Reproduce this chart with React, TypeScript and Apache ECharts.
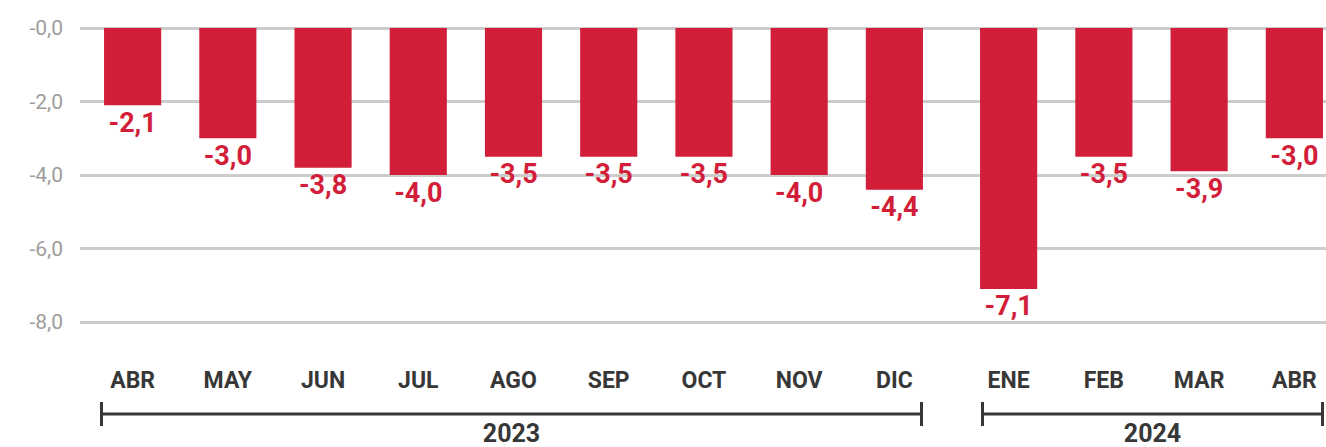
import React, { useEffect, useRef } from "react";
import * as echarts from "echarts";

const months2023 = ["ABR", "MAY", "JUN", "JUL", "AGO", "SEP", "OCT", "NOV", "DIC"];
const values2023 = [-2.1, -3.0, -3.8, -4.0, -3.5, -3.5, -3.5, -4.0, -4.4];
const months2024 = ["ENE", "FEB", "MAR", "ABR"];
const values2024 = [-7.1, -3.5, -3.9, -3.0];
const yMin = -8;
const yMax = 0;
const yInterval = 2;
const yearLabels = ["2023", "2024"];

const FONT = 'Roboto, "Liberation Sans", Arial, sans-serif';
const RED = "#d21e39";
const DARK = "#373737";

const fmt = (v: number) => (v === 0 ? "-0,0" : v.toFixed(1).replace(".", ","));

export default function App() {
  const ref = useRef<HTMLDivElement>(null);
  useEffect(() => {
    if (!ref.current) return;
    const chart = echarts.init(ref.current, undefined, { renderer: "svg" });
    const top = 28;
    const height = 294;
    const catAxis = (idx: number, data: string[]) => ({
      type: "category" as const,
      gridIndex: idx,
      data,
      axisLine: { show: false },
      axisTick: { show: false },
      axisLabel: {
        margin: 47,
        color: DARK,
        fontFamily: FONT,
        fontWeight: "bold" as const,
        fontSize: 23,
      },
    });
    const valAxis = (idx: number, show: boolean) => ({
      type: "value" as const,
      gridIndex: idx,
      min: yMin,
      max: yMax,
      interval: yInterval,
      axisLine: { show: false },
      axisTick: { show: false },
      splitLine: show ? { show: true, lineStyle: { color: "#cccccc", width: 3 } } : { show: false },
      axisLabel: show
        ? { show: true, margin: 17, color: "#9d9d9d", fontFamily: FONT, fontSize: 21, formatter: fmt }
        : { show: false },
    });
    const barSeries = (idx: number, data: number[]) => ({
      type: "bar" as const,
      xAxisIndex: idx,
      yAxisIndex: idx,
      data,
      barWidth: "60%",
      itemStyle: { color: RED },
      label: {
        show: true,
        position: "bottom" as const,
        distance: 4,
        color: RED,
        fontFamily: FONT,
        fontWeight: "bold" as const,
        fontSize: 27,
        formatter: (p: any) => fmt(p.value),
      },
    });
    const bracket = (x1: number, x2: number, label: string) => ({
      type: "group" as const,
      children: [
        { type: "line" as const, shape: { x1, y1: 414, x2, y2: 414 }, style: { stroke: DARK, lineWidth: 3 } },
        { type: "line" as const, shape: { x1: x1 + 1.5, y1: 402, x2: x1 + 1.5, y2: 426 }, style: { stroke: DARK, lineWidth: 3 } },
        { type: "line" as const, shape: { x1: x2 - 1.5, y1: 402, x2: x2 - 1.5, y2: 426 }, style: { stroke: DARK, lineWidth: 3 } },
        {
          type: "text" as const,
          x: (x1 + x2) / 2,
          y: 446,
          style: {
            text: label,
            fill: DARK,
            font: `bold 25px ${FONT}`,
            align: "center",
            verticalAlign: "bottom",
          },
        },
      ],
    });
    chart.setOption({
      animation: false,
      grid: [
        { left: 80, right: 34, top, height },
        { left: 85, width: 857, top, height },
        { left: 961, width: 381, top, height },
      ],
      xAxis: [
        { type: "category", gridIndex: 0, data: [""], show: false },
        catAxis(1, months2023),
        catAxis(2, months2024),
      ],
      yAxis: [valAxis(0, true), valAxis(1, false), valAxis(2, false)],
      series: [barSeries(1, values2023), barSeries(2, values2024)],
      graphic: [bracket(100, 923, yearLabels[0]), bracket(981, 1324, yearLabels[1])],
    });
    return () => chart.dispose();
  }, []);
  return (
    <div style={{ position: "absolute", left: 0, top: 0, width: 1326, height: 447, overflow: "hidden", background: "#fff" }}>
      <div ref={ref} style={{ width: 1360, height: 447 }} />
    </div>
  );
}
